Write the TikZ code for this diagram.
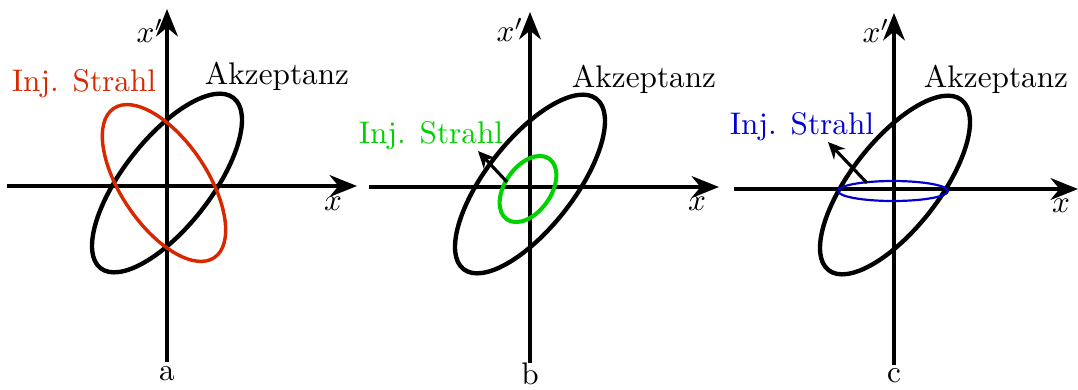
\documentclass[tikz,border=0pt]{standalone}
\usetikzlibrary{arrows.meta}
\definecolor{injred}{RGB}{215,40,0}
\definecolor{injgreen}{RGB}{0,210,0}
\definecolor{injblue}{RGB}{0,0,210}
\begin{document}
\begin{tikzpicture}[x=0.32pt,y=0.32pt,
  axis/.style={line width=1pt,-{Stealth[length=8.8pt,width=7pt]}},
  accept/.style={line width=1.4pt,black},
  smallarrow/.style={line width=1pt,-{Stealth[length=5.4pt,width=5pt]}},
  lbl/.style={inner sep=0pt,font=\fontsize{10}{12}\selectfont}]
\useasboundingbox (0,0) rectangle (1078,389);
% ---------- panel a ----------
\begin{scope}[shift={(167,203)}]
  \coordinate (aL) at (-160,0); \coordinate (aR) at (190,0);
  \coordinate (aB) at (0,-176); \coordinate (aT) at (0,177);
  \draw[axis] (aL) -- (aR);
  \draw[axis] (aB) -- (aT);
  \draw[accept] (0,3) ellipse [x radius=108, y radius=44, rotate=52];
  \draw[injred,line width=1.1pt] (-3,3) ellipse [x radius=90, y radius=43, rotate=124];
  \node[lbl] (axp) at (-17,155) {$x'$};
  \node[lbl] (ax) at (166,-18) {$x$};
  \node[lbl] (alab) at (0,-188) {a};
  \node[lbl,text=injred] (ainj) at (-83,102) {Inj. Strahl};
  \node[lbl] (aakz) at (110,110) {Akzeptanz};
\end{scope}
% ---------- panel b ----------
\begin{scope}[shift={(530,202)}]
  \coordinate (bL) at (-161,0); \coordinate (bR) at (189,0);
  \coordinate (bB) at (0,-176); \coordinate (bT) at (0,175);
  \draw[axis] (bL) -- (bR);
  \draw[axis] (bB) -- (bT);
  \draw[accept] (0,3) ellipse [x radius=108, y radius=44, rotate=52];
  \draw[injgreen,line width=1.3pt] (-2,-2) ellipse [x radius=37, y radius=23, rotate=55];
  \coordinate (bs) at (-23,5); \coordinate (be) at (-52,36);
  \draw[smallarrow] (bs) -- (be);
  \node[lbl] (bxp) at (-20,157) {$x'$};
  \node[lbl] (bx) at (167,-17) {$x$};
  \node[lbl] (blab) at (0,-187) {b};
  \node[lbl,text=injgreen] (binj) at (-99,51) {Inj. Strahl};
  \node[lbl] (bakz) at (114,108) {Akzeptanz};
\end{scope}
% ---------- panel c ----------
\begin{scope}[shift={(894,200)}]
  \coordinate (cL) at (-160,0); \coordinate (cR) at (184,0);
  \coordinate (cB) at (0,-176); \coordinate (cT) at (0,176);
  \draw[axis] (cL) -- (cR);
  \draw[axis] (cB) -- (cT);
  \draw[accept] (1,4) ellipse [x radius=108, y radius=44, rotate=52];
  \draw[injblue,line width=0.7pt] (-1,-2) ellipse [x radius=55, y radius=10];
  \coordinate (cs) at (-27,6); \coordinate (ce) at (-66,47);
  \draw[smallarrow] (cs) -- (ce);
  \node[lbl] (cxp) at (-18,158) {$x'$};
  \node[lbl] (cx) at (167,-17) {$x$};
  \node[lbl] (clab) at (0,-187) {c};
  \node[lbl,text=injblue] (cinj) at (-92,62) {Inj. Strahl};
  \node[lbl] (cakz) at (102,110) {Akzeptanz};
\end{scope}
\end{tikzpicture}
\end{document}
